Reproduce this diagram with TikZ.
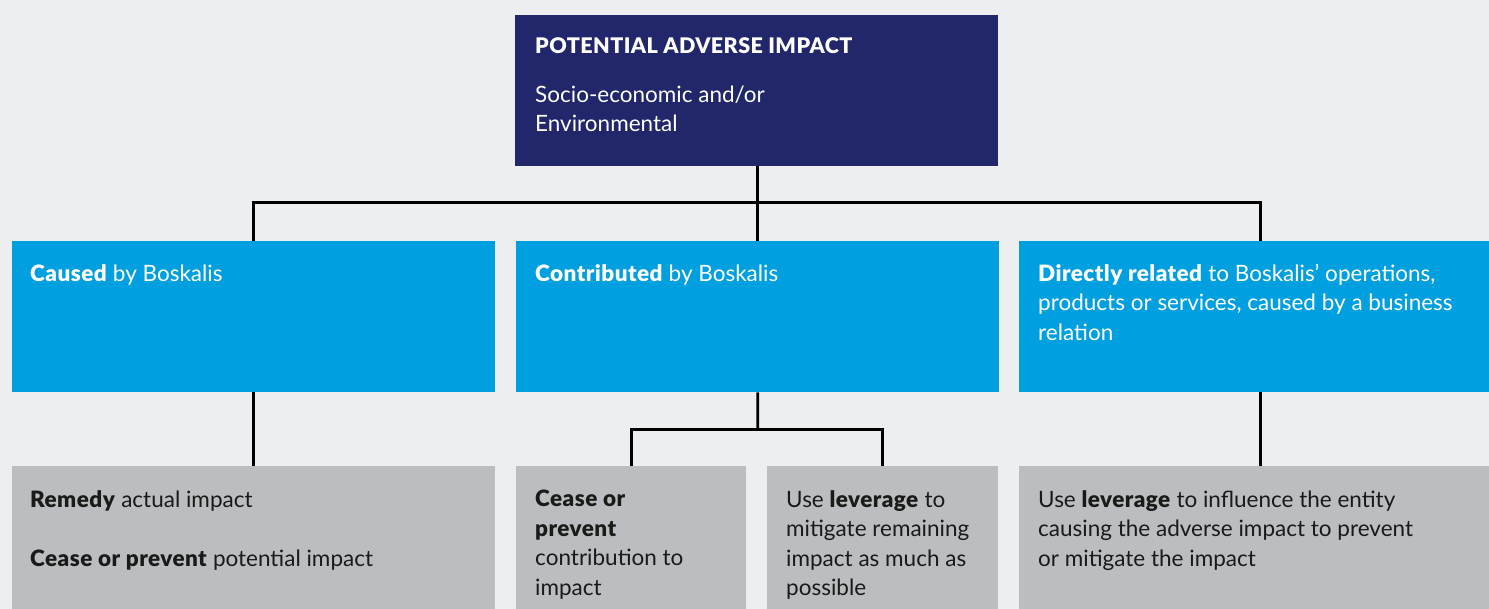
\documentclass[tikz,border=0pt]{standalone}
\usepackage{fontspec}
\setmainfont{Lato}[BoldFont={Lato Black}, BoldFeatures={LetterSpace=2}]
\usetikzlibrary{positioning,calc}

\definecolor{bkBack}{HTML}{EDEEF0}
\definecolor{bkNavy}{HTML}{21276A}
\definecolor{bkBlue}{HTML}{009FDF}
\definecolor{bkGrey}{HTML}{BBBEC1}
\definecolor{bkInk}{HTML}{1A1A18}

\tikzset{
  box/.style={rectangle, inner sep=0pt, anchor=north west, draw=none},
  topbox/.style={box, fill=bkNavy, minimum width=483pt, minimum height=151pt},
  midbox/.style={box, fill=bkBlue, minimum width=483pt, minimum height=151pt},
  lowbox/.style={box, fill=bkGrey, minimum height=160pt},
  txt/.style={anchor=north west, inner sep=0pt, align=left, font=\fontsize{22.5}{29.5}\selectfont},
  link/.style={line width=2.8pt, black}
}

\begin{document}
\begin{tikzpicture}[x=1pt,y=-1pt]
\clip (0,0) rectangle (1489,609);
\fill[bkBack] (0,0) rectangle (1489,609);

% boxes
\node[topbox] (impact) at (515,15) {};
\node[midbox] (caused) at (12,241) {};
\node[midbox] (contrib) at (516,241) {};
\node[midbox] (related) at (1019,241) {};
\node[lowbox, minimum width=483pt] (remedy) at (12,466) {};
\node[lowbox, minimum width=230pt] (cease) at (516,466) {};
\node[lowbox, minimum width=231pt] (leverage) at (767,466) {};
\node[lowbox, minimum width=483pt] (influence) at (1019,466) {};

% connectors
\coordinate (bus) at ($(contrib.north)!0.52!(contrib.north |- impact.south)$);
\coordinate (fork) at ($(contrib.south)!0.5!(contrib.south |- cease.north)$);
\draw[link] (contrib.north |- impact.south) -- (contrib.north);
\draw[link] (caused.north) |- (bus) -| (related.north);
\draw[link] (caused.south) -- (remedy.north);
\draw[link] (related.south) -- (influence.north);
\draw[link] (contrib.south) -- (fork);
\draw[link] (cease.north) |- (fork) -| (leverage.north);

% texts
\node[txt, white] (impactT) at ([shift={(20,22)}]impact.north west)
  {{\fontsize{21.5}{29.5}\selectfont\textbf{POTENTIAL ADVERSE IMPACT}}\\[19.5pt]
   Socio-economic and/or\\ Environmental};
\node[txt, white] (causedT) at ([shift={(18,23)}]caused.north west)
  {\textbf{Caused} by Boskalis};
\node[txt, white] (contribT) at ([shift={(19,23)}]contrib.north west)
  {\textbf{Contributed} by Boskalis};
\node[txt, white] (relatedT) at ([shift={(19,23)}]related.north west)
  {\textbf{Directly related} to Boskalis’ operations,\\
   products or services, caused by a business\\ relation};
\node[txt, bkInk] (remedyT) at ([shift={(18,24)}]remedy.north west)
  {\textbf{Remedy} actual impact\\[29.5pt]
   \textbf{Cease or prevent} potential impact};
\node[txt, bkInk] (ceaseT) at ([shift={(19,24)}]cease.north west)
  {\textbf{Cease or}\\ \textbf{prevent}\\ contribution to\\ impact};
\node[txt, bkInk] (leverageT) at ([shift={(19,24)}]leverage.north west)
  {Use \textbf{leverage} to\\ mitigate remaining\\ impact as much as\\ possible};
\node[txt, bkInk] (influenceT) at ([shift={(19,24)}]influence.north west)
  {Use \textbf{leverage} to influence the entity\\
   causing the adverse impact to prevent\\ or mitigate the impact};
\end{tikzpicture}
\end{document}
